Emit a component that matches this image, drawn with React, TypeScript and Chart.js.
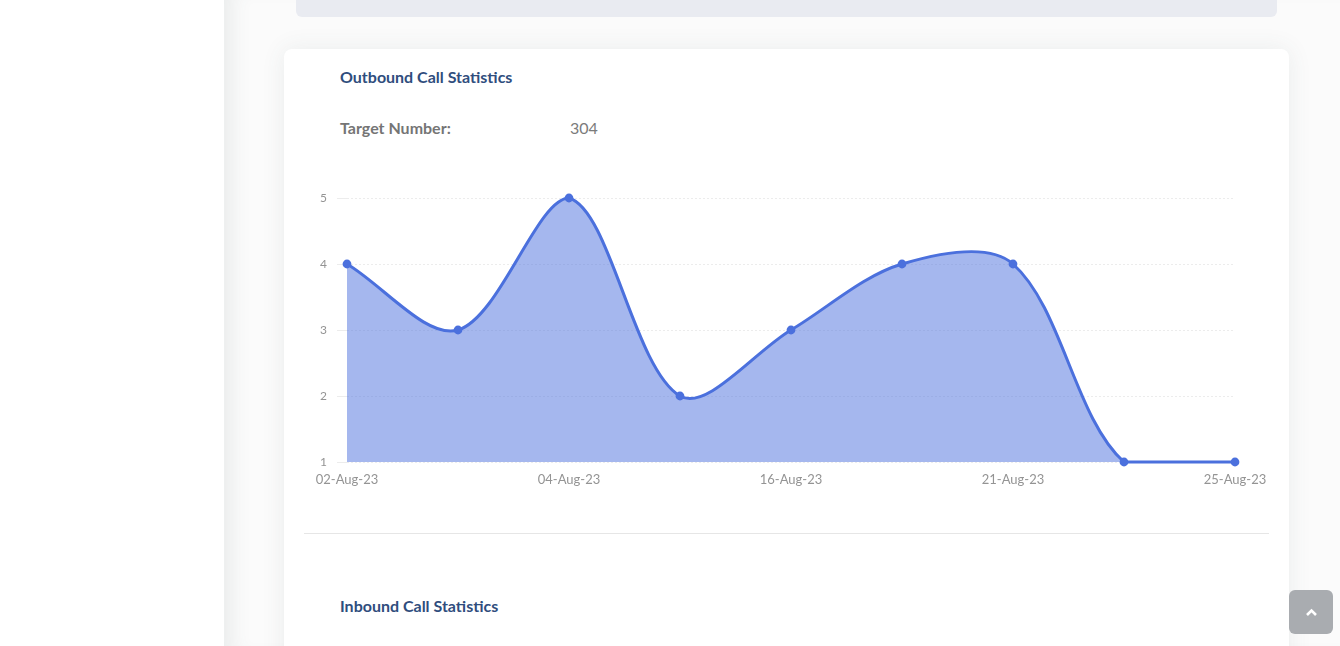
import React, { useEffect, useRef } from "react";
import { Chart, registerables } from "chart.js";

Chart.register(...registerables);

// Only every second date is printed on the reference; the others cannot be read.
const categories = ["02-Aug-23", "", "04-Aug-23", "", "16-Aug-23", "", "21-Aug-23", "", "25-Aug-23"];
const calls = [4, 3, 5, 2, 3, 4, 4, 1, 1];
const yTicks = [1, 2, 3, 4, 5];

const FONT = "Lato, 'Open Sans', sans-serif";

const abs = (s: React.CSSProperties): React.CSSProperties => ({ position: "absolute", ...s });
const text: React.CSSProperties = { position: "absolute", fontFamily: FONT, whiteSpace: "nowrap", lineHeight: "20px" };

export default function App() {
  const ref = useRef<HTMLCanvasElement>(null);

  useEffect(() => {
    document.body.style.margin = "0";
    document.body.style.overflow = "hidden";
    const chart = new Chart(ref.current!, {
      type: "line",
      data: {
        labels: categories,
        datasets: [
          {
            data: calls,
            borderColor: "#4b70dd",
            backgroundColor: "rgba(75,112,221,0.5)",
            borderWidth: 3,
            pointRadius: 4.4,
            pointHoverRadius: 4.4,
            pointBackgroundColor: "#4b70dd",
            pointBorderColor: "#4b70dd",
            pointBorderWidth: 0,
            tension: 0.33,
            fill: "start",
            clip: false,
          },
        ],
      },
      options: {
        animation: false,
        responsive: false,
        maintainAspectRatio: false,
        layout: { padding: { top: 18, right: 54, left: 0, bottom: 0 } },
        plugins: { legend: { display: false }, tooltip: { enabled: false }, title: { display: false } },
        scales: {
          x: {
            afterFit: (s: any) => { s.height = 38; },
            grid: { display: false },
            border: { display: false },
            ticks: {
              autoSkip: false,
              maxRotation: 0,
              minRotation: 0,
              padding: 2,
              color: "#949494",
              font: { family: FONT, size: 13 },
            },
          },
          y: {
            min: 1,
            max: 5,
            afterFit: (s: any) => { s.width = 63; },
            afterBuildTicks: (s: any) => { s.ticks = yTicks.map((value) => ({ value })); },
            grid: { color: "#ececec", tickLength: 10, lineWidth: 1 },
            border: { display: false, dash: [2, 2] },
            ticks: {
              padding: 10,
              color: "#949494",
              font: { family: FONT, size: 12 },
              callback: (v: any) => String(v),
            },
          },
        },
      },
    });
    return () => chart.destroy();
  }, []);

  return (
    <div style={abs({ left: 0, top: 0, width: 1340, height: 646, background: "#ffffff", overflow: "hidden" })}>
      <div style={abs({ left: 224, top: 0, width: 1116, height: 646, background: "#fbfbfb", boxShadow: "inset 22px 0 20px -14px rgba(70,85,85,0.09)" })} />
      <div style={abs({ left: 296, top: -10, width: 981, height: 27, background: "#e9ebf1", borderRadius: 6 })} />
      <div style={abs({ left: 284, top: 49, width: 1005, height: 640, background: "#ffffff", borderRadius: 8, boxShadow: "0 0 24px rgba(70,85,85,0.09)" })} />
      <div style={{ ...text, left: 340, top: 67, fontSize: 16, fontWeight: 700, color: "#2f4d7d" }}>Outbound Call Statistics</div>
      <div style={{ ...text, left: 340, top: 118, fontSize: 16, fontWeight: 700, color: "#757575" }}>Target Number:</div>
      <div style={{ ...text, left: 570, top: 118, fontSize: 16, color: "#7b7b7b" }}>304</div>
      <canvas ref={ref} width={1005} height={320} style={abs({ left: 284, top: 180, width: 1005, height: 320 })} />
      <div style={abs({ left: 304, top: 533, width: 965, height: 1, background: "#e6e6e6" })} />
      <div style={{ ...text, left: 340, top: 596, fontSize: 16, fontWeight: 700, color: "#2f4d7d" }}>Inbound Call Statistics</div>
      <div style={abs({ left: 1289, top: 590, width: 44, height: 44, background: "#a9acb0", borderRadius: 6 })}>
        <svg width="44" height="44" viewBox="0 0 44 44">
          <path d="M18 25 L22.5 20.5 L27 25" fill="none" stroke="#ffffff" strokeWidth="2.6" />
        </svg>
      </div>
    </div>
  );
}
